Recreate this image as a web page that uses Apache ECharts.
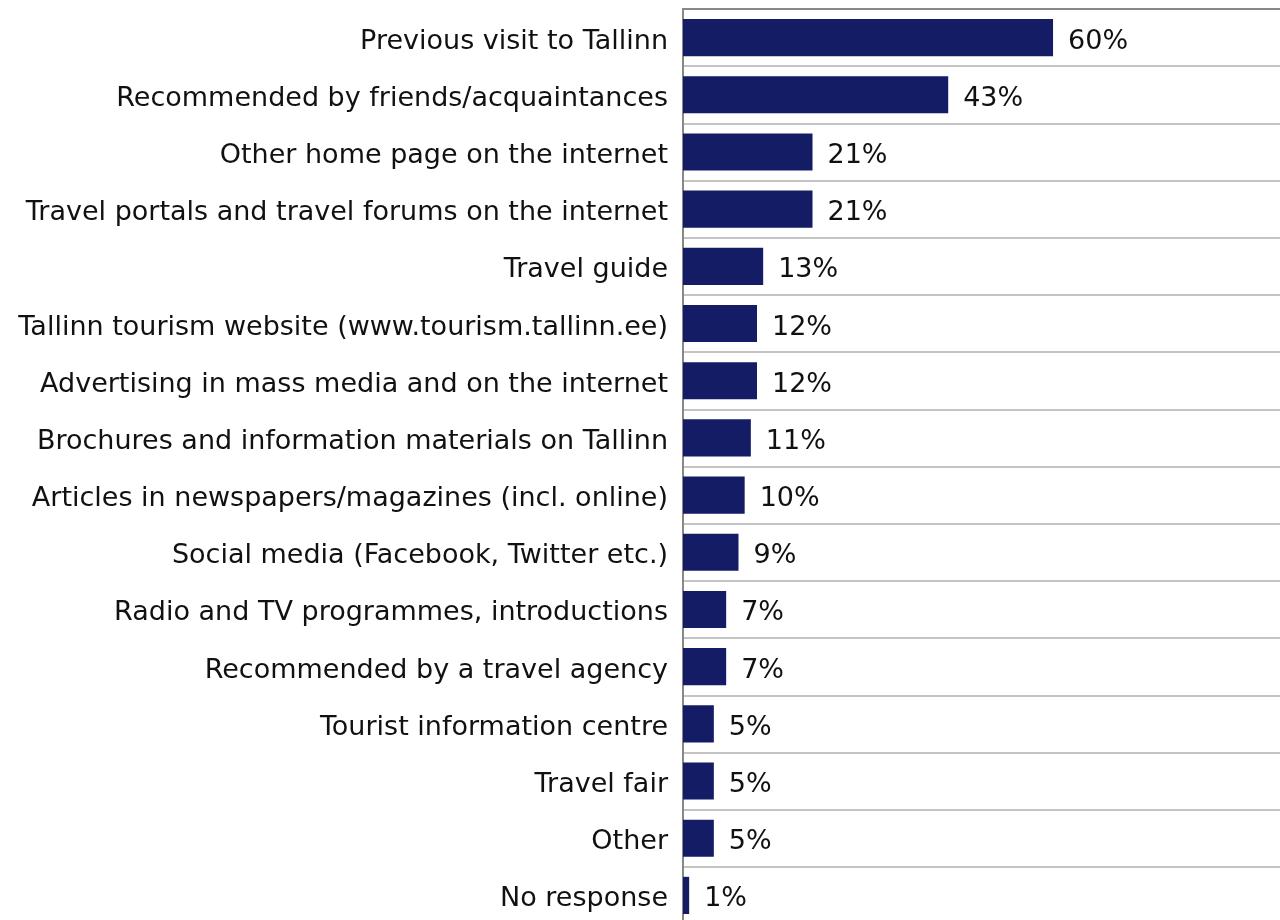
<!DOCTYPE html>
<html>
<head>
<meta charset="utf-8">
<script src="https://cdn.jsdelivr.net/npm/echarts@6/dist/echarts.min.js"></script>
<style>
  html, body { margin: 0; padding: 0; background: #fff; overflow: hidden; }
  /* a bit taller than the window: the last row is cut off at the bottom */
  #main { width: 1280px; height: 930px; }
</style>
</head>
<body>
<div id="main"></div>
<script>
// categories top to bottom
var categories = [
  'Previous visit to Tallinn',
  'Recommended by friends/acquaintances',
  'Other home page on the internet',
  'Travel portals and travel forums on the internet',
  'Travel guide',
  'Tallinn tourism website (www.tourism.tallinn.ee)',
  'Advertising in mass media and on the internet',
  'Brochures and information materials on Tallinn',
  'Articles in newspapers/magazines (incl. online)',
  'Social media (Facebook, Twitter etc.)',
  'Radio and TV programmes, introductions',
  'Recommended by a travel agency',
  'Tourist information centre',
  'Travel fair',
  'Other',
  'No response'
]
var shares = [60, 43, 21, 21, 13, 12, 12, 11, 10, 9, 7, 7, 5, 5, 5, 1]

var myChart = echarts.init(document.getElementById('main'))
var option = {
  animation: false,
  grid: {
    left: 683,
    right: 0,
    top: 9,
    bottom: 6,
    containLabel: false
  },
  xAxis: {
    type: 'value',
    position: 'top',
    min: 0,
    max: 96.8,     // the plot is cut off at the right edge
    axisLine: { show: true, lineStyle: { color: '#888', width: 2 } },
    axisTick: { show: false },
    axisLabel: { show: false },
    splitLine: { show: false }
  },
  yAxis: {
    type: 'category',
    inverse: true,
    data: categories,
    axisLine: { show: true, lineStyle: { color: '#888', width: 2 } },
    axisTick: { show: false },
    axisLabel: {
      margin: 15,
      color: '#111',
      fontFamily: 'DejaVu Sans',
      fontSize: 27,
      // push the text a few px below the bar centre
      formatter: function (v) { return '{t|' + v + '}' },
      rich: {
        t: {
          color: '#111',
          fontFamily: 'DejaVu Sans',
          fontSize: 27,
          padding: [8, 0, 0, 0]
        }
      }
    },
    splitLine: { show: true, lineStyle: { color: '#c4c4c4', width: 2 } }
  },
  series: [{
    type: 'bar',
    data: shares,
    barCategoryGap: '35%',
    itemStyle: { color: '#151c66' },
    label: {
      show: true,
      position: 'right',
      distance: 15,
      offset: [0, 4],
      formatter: '{c}%',
      color: '#111',
      fontFamily: 'DejaVu Sans',
      fontSize: 27
    }
  }]
}
myChart.setOption(option)
</script>
</body>
</html>
